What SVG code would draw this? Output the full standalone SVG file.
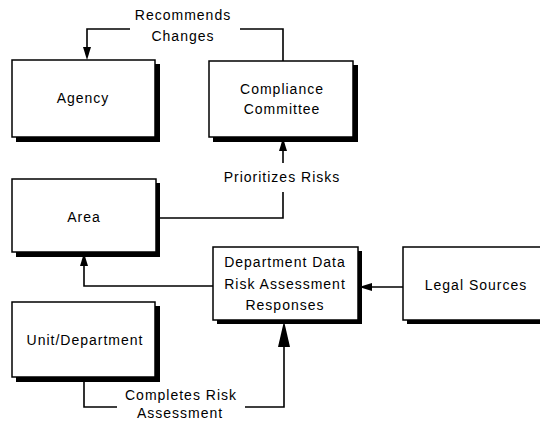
<svg xmlns="http://www.w3.org/2000/svg" width="540" height="421" viewBox="0 0 540 421">
<defs>
<style>
.box{fill:#fff;stroke:#000;stroke-width:1.5}
.sh{fill:#000}
.t{font-family:"Liberation Sans",Arial,sans-serif;font-size:14px;letter-spacing:1px;text-anchor:middle;fill:#000}
.c{fill:none;stroke:#000;stroke-width:1.6}
.ah{fill:#000}
</style>
</defs>
<rect width="540" height="421" fill="#fff"/>
<g id="agency">
<rect class="sh" x="16" y="64" width="144" height="78"/>
<rect class="box" x="12" y="60" width="143" height="77"/>
<text class="t" x="83" y="103">Agency</text>
</g>
<g id="compliance">
<rect class="sh" x="213" y="65" width="145" height="77"/>
<rect class="box" x="209" y="61" width="144" height="76"/>
<text class="t" x="282" y="94">Compliance</text>
<text class="t" x="282" y="114">Committee</text>
</g>
<g id="area">
<rect class="sh" x="16" y="183" width="144" height="74"/>
<rect class="box" x="12" y="179" width="144" height="73"/>
<text class="t" x="84" y="222">Area</text>
</g>
<g id="dept-data">
<rect class="sh" x="217" y="251" width="145" height="73"/>
<rect class="box" x="213" y="247" width="145" height="73"/>
<text class="t" x="285" y="267">Department Data</text>
<text class="t" x="285" y="289">Risk Assessment</text>
<text class="t" x="285" y="310">Responses</text>
</g>
<g id="legal">
<rect class="sh" x="407" y="251" width="140" height="73"/>
<rect class="box" x="403" y="247" width="145" height="73"/>
<text class="t" x="476" y="290">Legal Sources</text>
</g>
<g id="unit">
<rect class="sh" x="16" y="306" width="144" height="76"/>
<rect class="box" x="12" y="302" width="143" height="75"/>
<text class="t" x="85" y="345">Unit/Department</text>
</g>
<g id="connectors">
<polyline class="c" points="283,61 283,29 240,29"/>
<polyline class="c" points="130,29 87,29 87,48"/>
<polygon class="ah" points="83,47 91,47 87,60"/>
<polyline class="c" points="156,218 283,218 283,192"/>
<line class="c" x1="283" y1="163" x2="283" y2="148"/>
<polygon class="ah" points="279,151 287,151 283,138"/>
<polyline class="c" points="213,286 84,286 84,265"/>
<polygon class="ah" points="80,266 88,266 84,253"/>
<line class="c" x1="403" y1="287" x2="370" y2="287"/>
<polygon class="ah" points="372,283 372,291 359,287"/>
<polyline class="c" points="84,377 84,407 117,407"/>
<polyline class="c" points="245,407 284,407 284,345"/>
<polygon class="ah" points="278,347 290,347 284,321"/>
</g>
<g id="labels">
<text class="t" x="183" y="20">Recommends</text>
<text class="t" x="183" y="41">Changes</text>
<text class="t" x="282" y="182">Prioritizes Risks</text>
<text class="t" x="181" y="400">Completes Risk</text>
<text class="t" x="180" y="418">Assessment</text>
</g>
</svg>
